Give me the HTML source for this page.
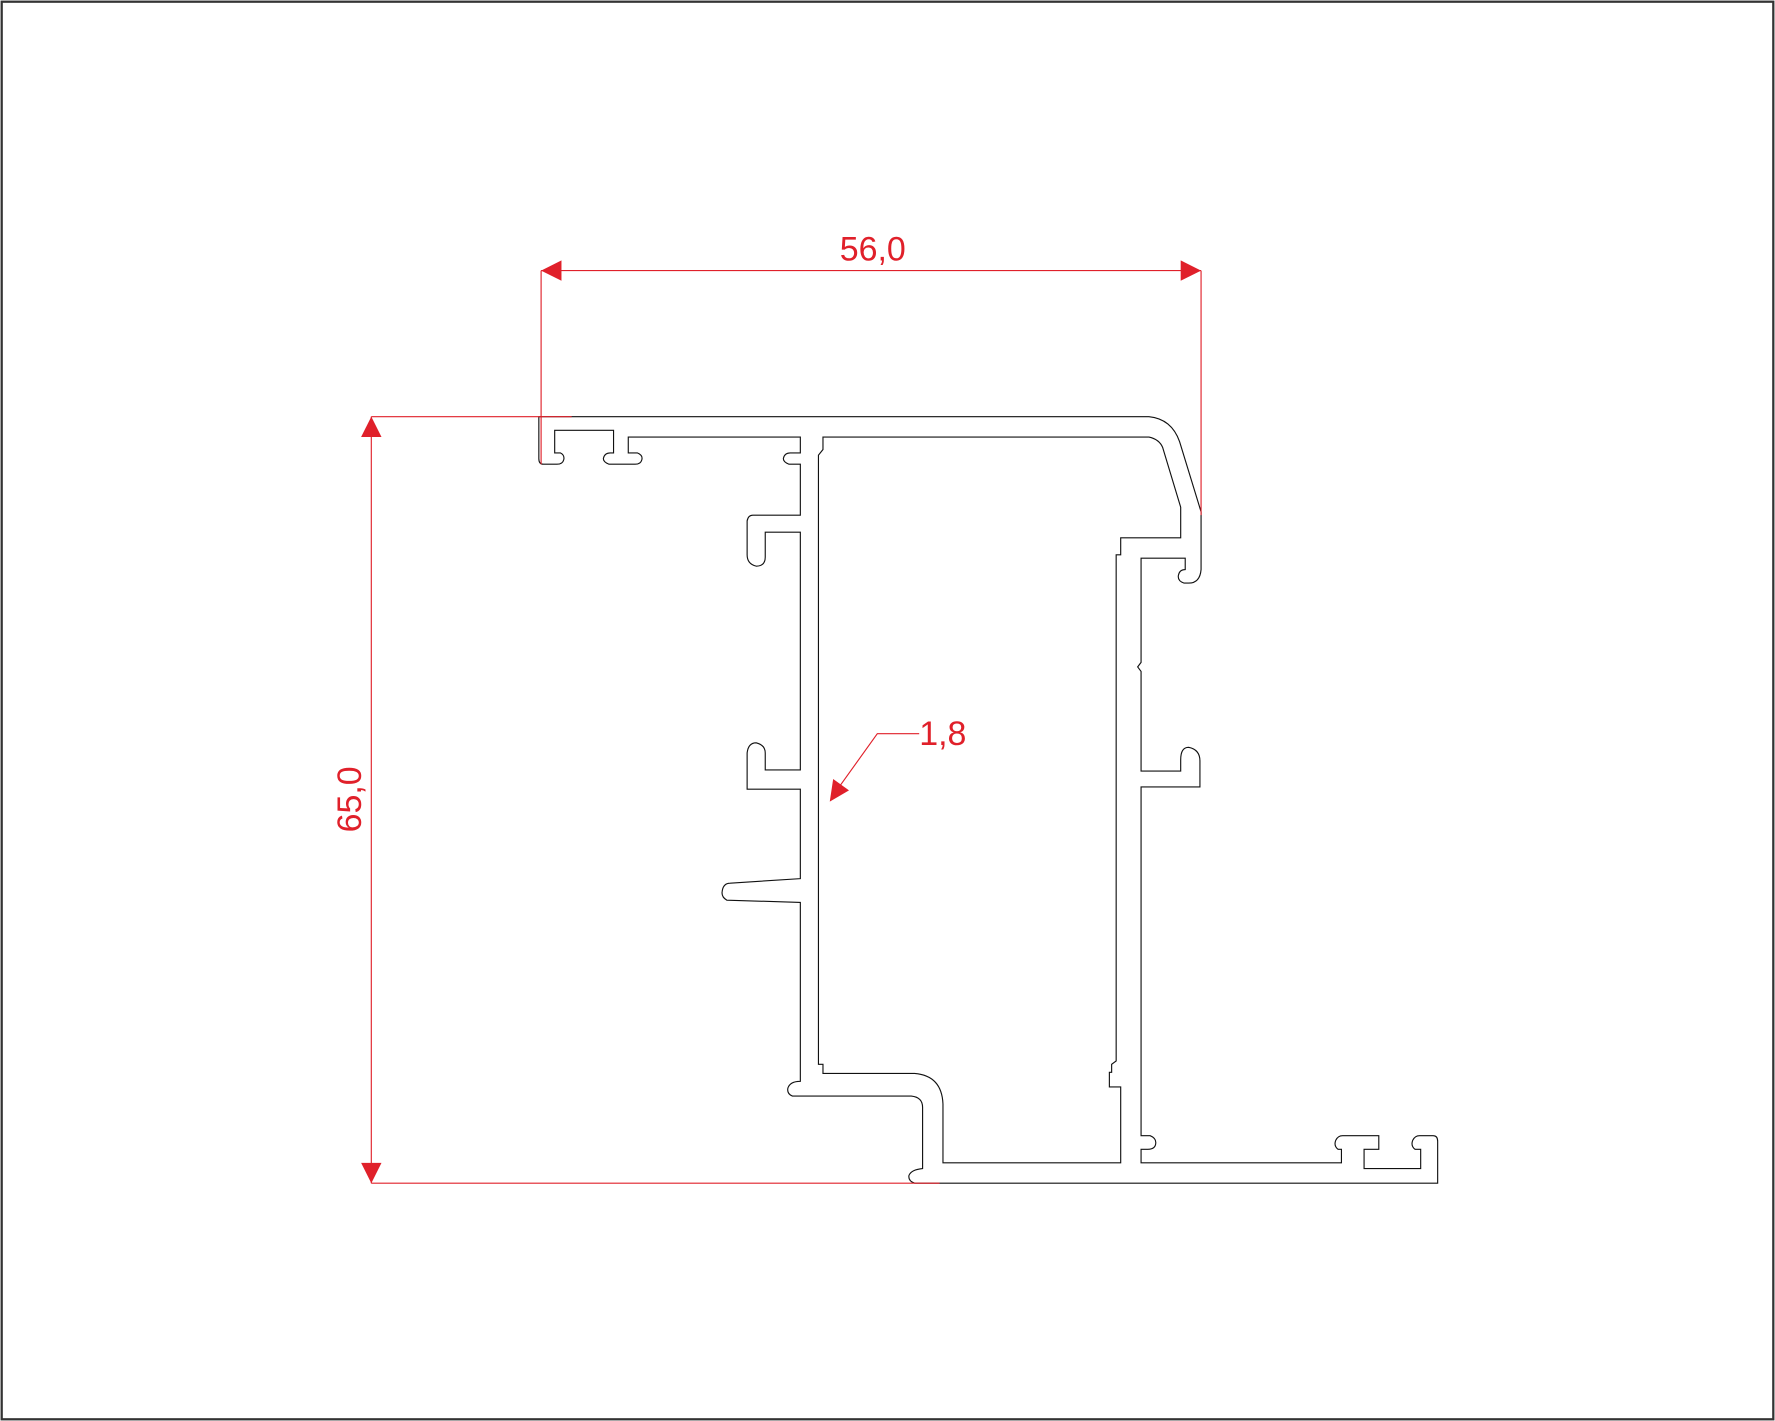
<!DOCTYPE html>
<html><head><meta charset="utf-8"><style>
html,body{margin:0;padding:0;background:#fff;}
svg{display:block;}
</style></head><body>
<svg width="1775" height="1421" viewBox="0 0 1568 1255" preserveAspectRatio="none" xmlns="http://www.w3.org/2000/svg">
<rect x="0" y="0" width="1568" height="1255" fill="#fff"/>
<rect x="1.5" y="1.5" width="1565" height="1252" fill="none" stroke="#333" stroke-width="2"/>
<g fill="none" stroke="#111" stroke-width="1">
<path d="M476,368 L1015,368 Q1035,370 1042,390 L1061,452 L1061,503 Q1060,515 1050,515 L1046,515 Q1040,513 1041,508 Q1042,503 1047,503 L1047,493 L1008,493 L1008,585 L1005,589 L1008,593 L1008,681 L1043,681 L1043,671 Q1043,660 1050,660 Q1060,662 1060,672 L1060,695 L1008,695 L1008,1003 L1016,1003 Q1021,1005 1021,1009 Q1021,1015 1014,1015 L1008,1015 L1008,1027 L1185,1027 L1185,1015 L1182,1015 Q1178,1012 1180,1007 Q1182,1003 1186,1003 L1218,1003 L1218,1015 L1205,1015 L1205,1032 L1255,1032 L1255,1015 L1250,1015 Q1246,1012 1248,1007 Q1250,1003 1254,1003 L1266,1003 Q1270,1003 1270,1008 L1270,1045 L808,1045 Q802,1043 803,1038 Q805,1033 815,1032 L815,978 Q815,969 805,968 L700,968 Q695,966 696,961 Q698,955 707,955 L707,797 L642,795 Q637,792 638,787 Q639,780 645,780 L707,776 L707,697 L660,697 L660,665 Q661,656 668,656 Q676,658 676,665 L676,680 L707,680 L707,470 L676,470 L676,492 Q676,500 668,500 Q660,498 660,490 L660,460 Q661,455 665,455 L707,455 L707,410 L697,410 Q692,408 692,405 Q693,400 698,400 L707,400 L707,386 L555,386 L555,400 L563,400 Q568,402 567,406 Q566,410 561,410 L538,410 Q533,408 533,405 Q534,400 539,400 L542,400 L542,380 L490,380 L490,400 L495,400 Q499,402 498,406 Q497,410 492,410 L480,410 Q476,410 476,405 Z"/>
<path d="M727,386 L1015,386 Q1024,388 1027,395 L1043,448 L1043,475 L990,475 L990,490 L986,490 L986,937 L982,940 L982,947 L980,947 L980,960 L990,960 L990,1027 L833,1027 L833,975 Q832,950 808,948 L727,948 L727,940 L723,940 L723,402 L727,397 Z"/>
</g>
<g stroke="#e0202a" stroke-width="1" fill="none">
<line x1="478" y1="239" x2="1061" y2="239"/>
<line x1="478" y1="239" x2="478" y2="410"/>
<line x1="1061" y1="239" x2="1061" y2="455"/>
<line x1="328" y1="368" x2="328" y2="1045"/>
<line x1="328" y1="368" x2="505" y2="368"/>
<line x1="328" y1="1045" x2="830" y2="1045"/>
<polyline points="812,648 775,648 742,694"/>
</g>
<g fill="#e0202a">
<polygon points="478,239 496,230 496,248"/>
<polygon points="1061,239 1043,230 1043,248"/>
<polygon points="328,368 319,386 337,386"/>
<polygon points="328,1045 319,1027 337,1027"/>
<polygon points="733,708 736,688 750,698"/>
</g>
<g fill="#e0202a" font-family="Liberation Sans, sans-serif" font-size="30">
<text x="771" y="230" text-anchor="middle">56,0</text>
<text x="812" y="658">1,8</text>
<text transform="translate(319,706) rotate(-90)" text-anchor="middle">65,0</text>
</g>
</svg>
</body></html>
